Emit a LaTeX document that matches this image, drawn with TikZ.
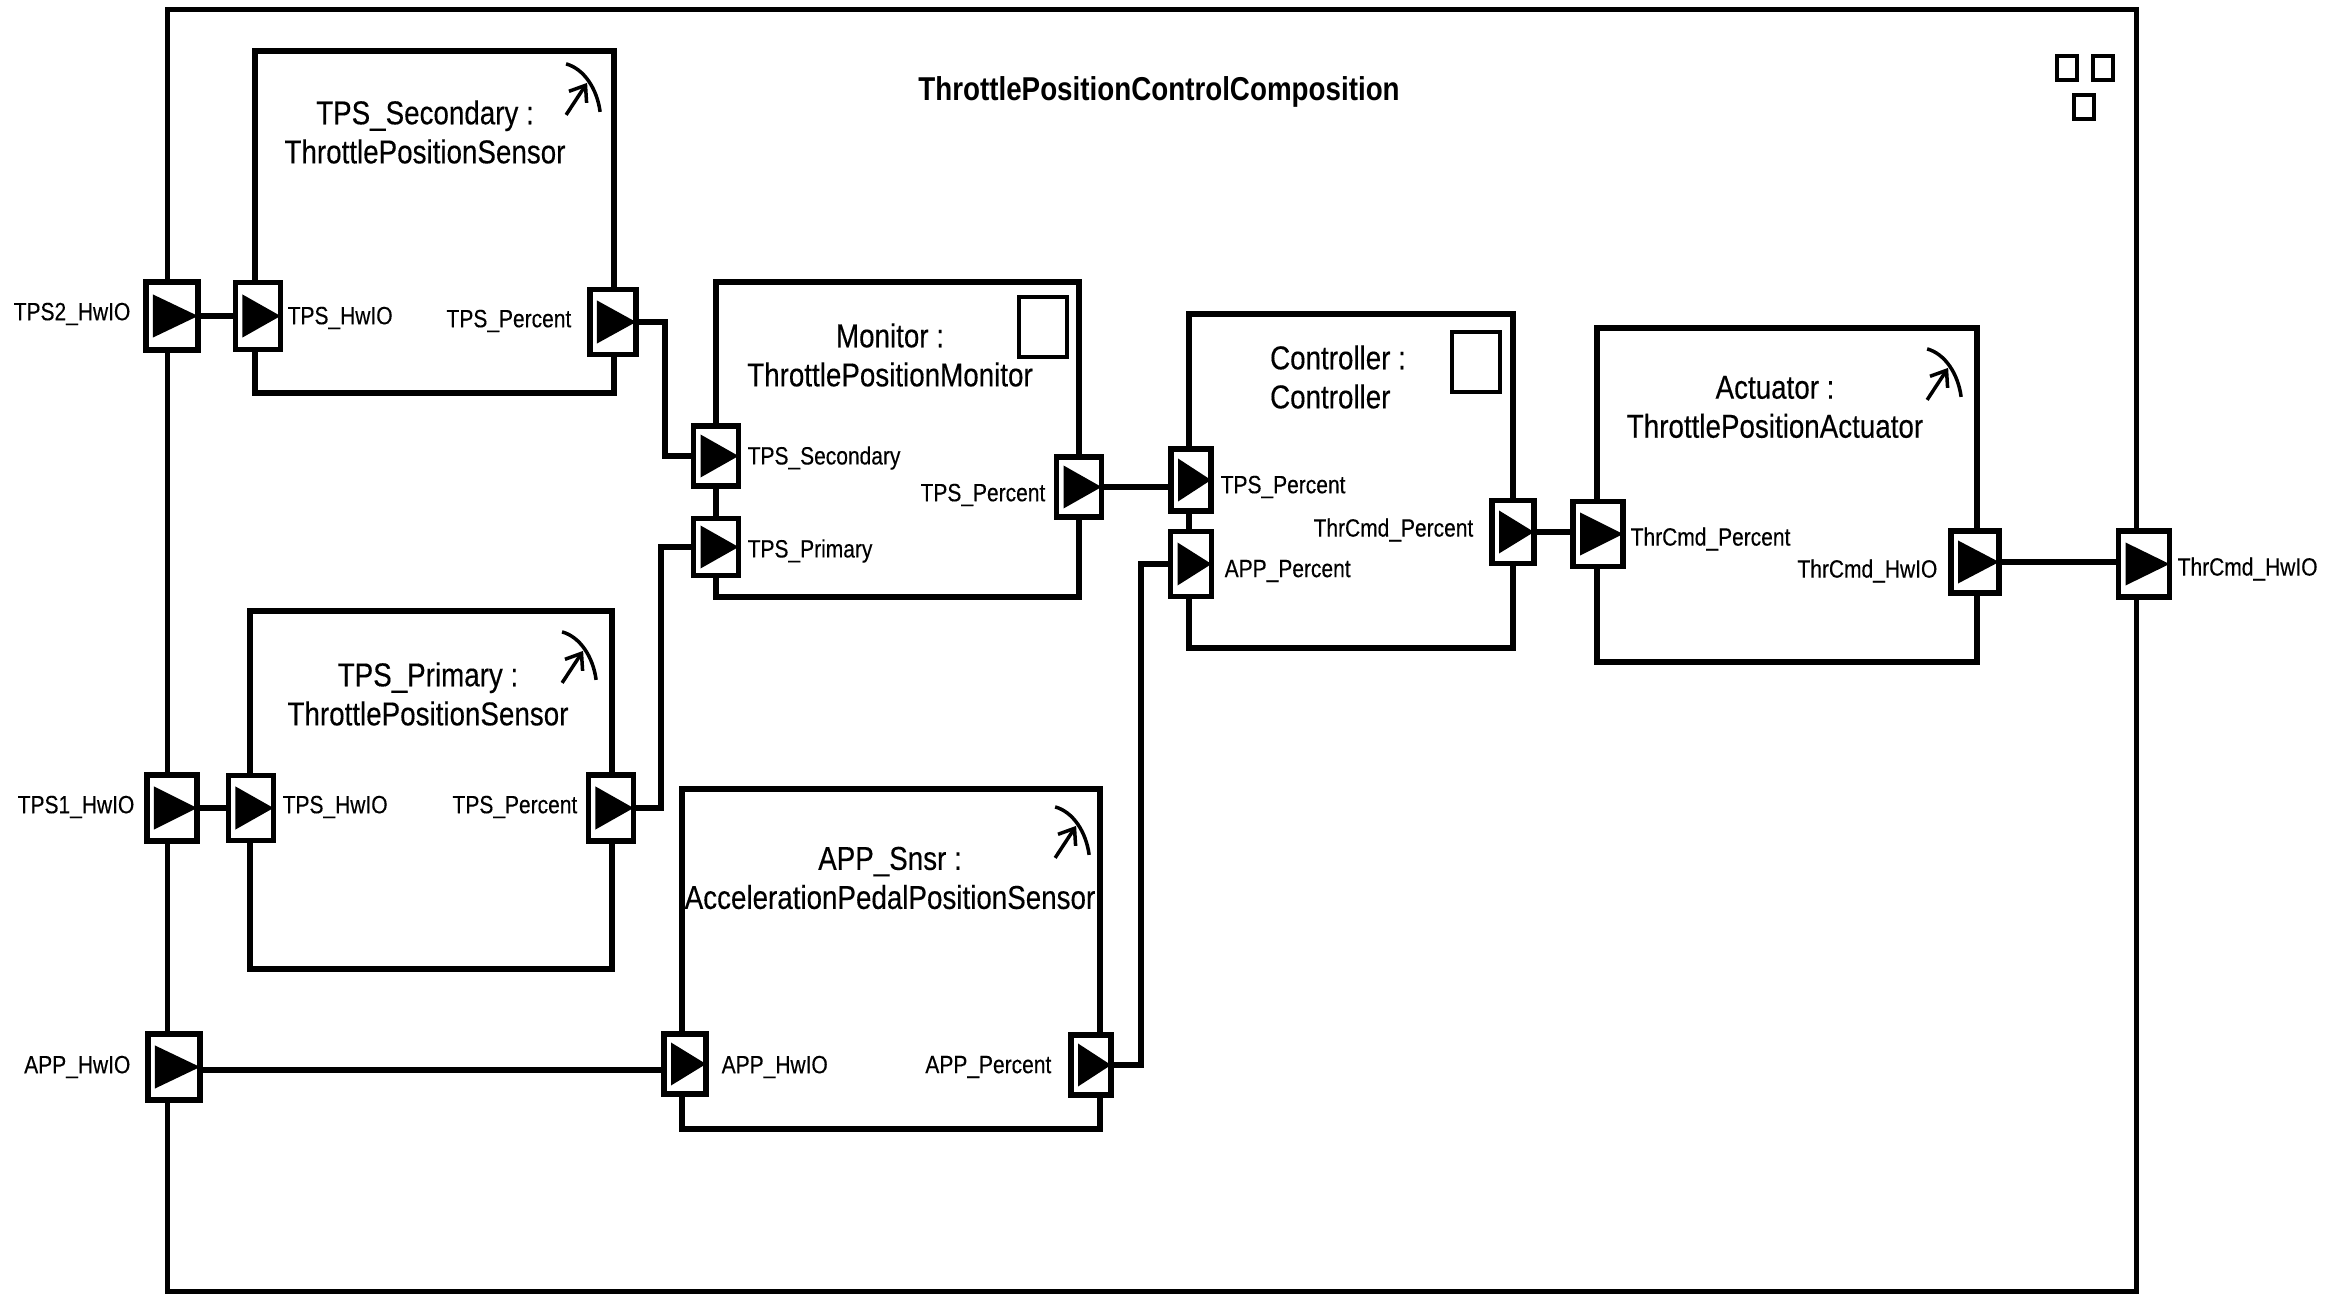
\documentclass[tikz,border=0pt]{standalone}
\usepackage{fontspec}
\setmainfont[FakeStretch=0.84,FakeBold=0.3,BoldFeatures={FakeBold=0}]{Liberation Sans}
\usetikzlibrary{arrows.meta}
\usetikzlibrary{positioning}

\begin{document}
\begin{tikzpicture}[
    x=0.01cm, y=-0.01cm,
    swc/.style={rectangle, draw, line width=1.6pt, inner sep=0pt, outer sep=0pt},
    port/.style={rectangle, draw, fill=white, line width=1.6pt, inner sep=0pt, outer sep=0pt,
        path picture={\fill[black] ([shift={(0.07cm,0.215cm)}]path picture bounding box.west)
            -- ([shift={(0.07cm,-0.215cm)}]path picture bounding box.west)
            -- (path picture bounding box.east) -- cycle;}},
    wire/.style={line width=1.6pt},
    small/.style={rectangle, draw, line width=1pt, inner sep=0pt, outer sep=0pt},
    plabel/.style={inner sep=0pt, yshift=-0.03cm, font=\fontsize{7.1pt}{8.5pt}\selectfont},
    cname/.style={inner sep=0pt, align=center, font=\fontsize{9.4pt}{11.1pt}\selectfont}
]
\useasboundingbox (0,0) rectangle (2330,1295);

% --- Outer composition ---
\node[swc, minimum width=19.68cm, minimum height=12.81cm] (frame) at (1152,650.5) {};
\node[inner sep=0pt, font=\fontsize{9.4pt}{11pt}\selectfont\bfseries] (title) at (1159,92) {ThrottlePositionControlComposition};

% --- Composition icon ---
\foreach \nm/\px/\py in {sqa/2067/68, sqb/2103/68, sqc/2084/107}
    \node[small, minimum width=0.2cm, minimum height=0.24cm] (\nm) at (\px,\py) {};

% --- Components ---
\foreach \nm/\px/\py/\w/\h in {sec/434.5/222/3.59/3.42, pri/431/790/3.62/3.58,
    mon/897.5/439.5/3.63/3.15, ctl/1351/481/3.24/3.34,
    act/1787/495/3.80/3.34, app/891/959/4.18/3.40}
    \node[swc, minimum width=\w cm, minimum height=\h cm] (\nm) at (\px,\py) {};

% --- Component names ---
\node[cname] (nameSec) at (425,132) {TPS\_Secondary :\\ThrottlePositionSensor};
\node[cname] (namePri) at (428,694) {TPS\_Primary :\\ThrottlePositionSensor};
\node[cname] (nameMon) at (890,355) {Monitor :\\ThrottlePositionMonitor};
\node[cname, align=left] (nameCtl) at (1338,377) {Controller :\\Controller};
\node[cname] (nameAct) at (1775,407) {Actuator :\\ThrottlePositionActuator};
\node[cname] (nameApp) at (890,878) {APP\_Snsr :\\AccelerationPedalPositionSensor};

% --- Sensor and actuator icons ---
\foreach \bx/\dx/\dy in {sec/0/0, pri/-2/8, act/-2/8, app/3/5}
{
    \begin{scope}[shift={(\bx.north east)}, xshift=\dx*0.01cm, yshift=-\dy*0.01cm]
    \draw[line width=1pt] (-48,13) .. controls (-30,18) and (-17,38) .. (-14,61);
    \draw[line width=1pt, -{Straight Barb[length=4pt, width=6pt]}] (-48,64) -- (-27,32);
    \end{scope}
}

% --- Empty marks in the boxes ---
\node[small, minimum width=0.48cm, minimum height=0.6cm] (markMon) at (1043,327) {};
\node[small, minimum width=0.48cm, minimum height=0.6cm] (markCtl) at (1476,362) {};

% --- Ports ---
\foreach \nm/\px/\py/\w/\h in {tpsTwo/172/316/0.52/0.68, tpsOne/172/808/0.50/0.66,
    appHw/174/1067/0.52/0.66, secHw/258/316/0.45/0.67, secPct/613/322/0.46/0.65,
    priHw/251/808/0.45/0.65, priPct/611/808/0.45/0.66,
    monSec/716/456/0.45/0.60, monPri/716/547/0.45/0.57, monPct/1079/487/0.45/0.60,
    ctlTps/1191/480/0.40/0.62, ctlApp/1191/564/0.41/0.65, ctlThr/1513/532/0.42/0.63,
    actThr/1598/534/0.50/0.65, actHw/1975/562/0.48/0.62, thrOut/2144/564/0.51/0.66,
    appIn/685/1064/0.42/0.60, appPct/1091/1065/0.40/0.60}
    \node[port, minimum width=\w cm, minimum height=\h cm] (\nm) at (\px,\py) {};

% --- Port labels ---
\node[plabel, anchor=east] (lbTpsTwo) at (131,311) {TPS2\_HwIO};
\node[plabel, anchor=east] (lbTpsOne) at (135,804) {TPS1\_HwIO};
\node[plabel, anchor=east] (lbAppHw) at (131,1064) {APP\_HwIO};
\node[plabel, anchor=west] (lbSecHw) at (287,315) {TPS\_HwIO};
\node[plabel, anchor=east] (lbSecPct) at (572,318) {TPS\_Percent};
\node[plabel, anchor=west] (lbPriHw) at (282,804) {TPS\_HwIO};
\node[plabel, anchor=east] (lbPriPct) at (578,804) {TPS\_Percent};
\node[plabel, anchor=west] (lbMonSec) at (747,455) {TPS\_Secondary};
\node[plabel, anchor=west] (lbMonPri) at (747,548) {TPS\_Primary};
\node[plabel, anchor=east] (lbMonPct) at (1046,492) {TPS\_Percent};
\node[plabel, anchor=west] (lbCtlTps) at (1220,484) {TPS\_Percent};
\node[plabel, anchor=west] (lbCtlApp) at (1224,568) {APP\_Percent};
\node[plabel, anchor=east] (lbCtlThr) at (1474,527) {ThrCmd\_Percent};
\node[plabel, anchor=west] (lbActThr) at (1630,536) {ThrCmd\_Percent};
\node[plabel, anchor=east] (lbActHw) at (1938,568) {ThrCmd\_HwIO};
\node[plabel, anchor=west] (lbThrOut) at (2177,566) {ThrCmd\_HwIO};
\node[plabel, anchor=west] (lbAppIn) at (721,1064) {APP\_HwIO};
\node[plabel, anchor=east] (lbAppPct) at (1052,1064) {APP\_Percent};

% --- Bend points of the wires ---
\coordinate (bendSec) at (665,400);
\coordinate (bendPri) at (661,700);
\coordinate (bendApp) at (1141,800);

% --- Wires ---
\draw[wire] (tpsTwo.east) -- (secHw.west);
\draw[wire] (tpsOne.east) -- (priHw.west);
\draw[wire] ([yshift=-0.03cm]appHw.east) -- ([yshift=-0.03cm]appHw.east -| appIn.west);
\draw[wire] (secPct.east) -| (bendSec) |- (monSec.west);
\draw[wire] (priPct.east) -| (bendPri) |- (monPri.west);
\draw[wire] (appPct.east) -| (bendApp) |- (ctlApp.west);
\draw[wire] (monPct.east) -- (monPct.east -| ctlTps.west);
\draw[wire] (ctlThr.east) -- (ctlThr.east -| actThr.west);
\draw[wire] (actHw.east) -- (actHw.east -| thrOut.west);

\end{tikzpicture}
\end{document}
